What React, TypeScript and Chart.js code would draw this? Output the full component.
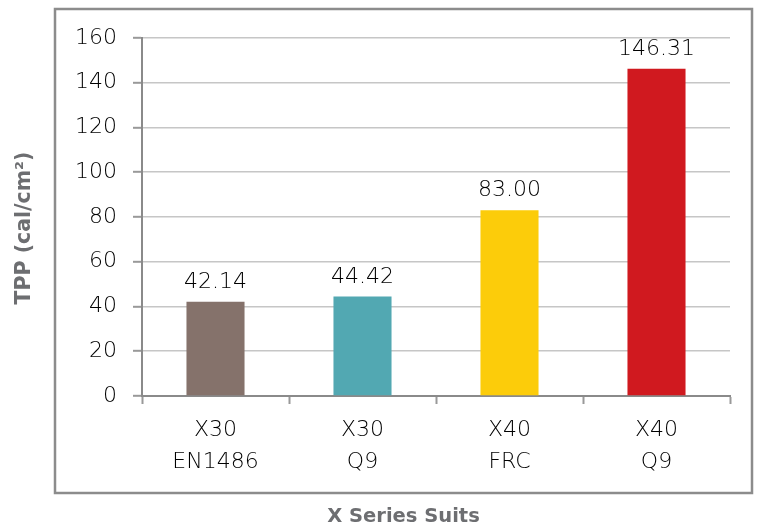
import React, { useEffect, useRef } from "react";
import { Chart, registerables } from "chart.js";

Chart.register(...registerables);

const categories: string[][] = [
  ["X30", "EN1486"],
  ["X30", "Q9"],
  ["X40", "FRC"],
  ["X40", "Q9"],
];
const tppValues: number[] = [42.14, 44.42, 83.0, 146.31];
const barColors: string[] = ["#85726b", "#52a8b2", "#fccc0a", "#d0191f"];
const yTitle = "TPP (cal/cm²)";
const xTitle = "X Series Suits";
const yMin = 0;
const yMax = 160;
const yStep = 20;

const FONT = "'DejaVu Sans', 'Liberation Sans', sans-serif";
const LIGHT = 200;
const TEXT = "#000000";

const decorPlugin = {
  id: "decor",
  beforeDraw(chart: any) {
    const { ctx, chartArea } = chart;
    const l = chartArea.left - 87;
    const t = chartArea.top - 29;
    const r = chartArea.right + 22;
    const b = chartArea.bottom + 97;
    ctx.save();
    ctx.strokeStyle = "#8c8c8c";
    ctx.lineWidth = 2.5;
    ctx.strokeRect(l, t, r - l, b - t);
    ctx.fillStyle = "#6d6e71";
    ctx.font = `bold 19.5px ${FONT}`;
    ctx.textAlign = "center";
    ctx.textBaseline = "alphabetic";
    ctx.fillText(xTitle, (l + r) / 2, b + 29);
    ctx.font = `bold 20.5px ${FONT}`;
    ctx.translate(l - 30, (chartArea.top + chartArea.bottom) / 2 + 11);
    ctx.rotate(-Math.PI / 2);
    ctx.textBaseline = "middle";
    ctx.fillText(yTitle, 0, 0);
    ctx.restore();
  },
  afterDatasetsDraw(chart: any) {
    const { ctx } = chart;
    const meta = chart.getDatasetMeta(0);
    const data = chart.data.datasets[0].data as number[];
    ctx.save();
    ctx.fillStyle = TEXT;
    ctx.font = `${LIGHT} 22px ${FONT}`;
    ctx.textAlign = "center";
    ctx.textBaseline = "alphabetic";
    meta.data.forEach((bar: any, i: number) => {
      ctx.fillText(data[i].toFixed(2), bar.x, bar.y - 14);
    });
    ctx.restore();
  },
};

export default function App() {
  const ref = useRef<HTMLCanvasElement | null>(null);
  useEffect(() => {
    document.body.style.margin = "0";
    const canvas = ref.current;
    if (!canvas) return;
    const chart = new Chart(canvas, {
      type: "bar",
      data: {
        labels: categories,
        datasets: [
          {
            data: tppValues,
            backgroundColor: barColors,
            borderWidth: 0,
            categoryPercentage: 1,
            barPercentage: 0.395,
          },
        ],
      },
      options: {
        animation: false,
        responsive: false,
        devicePixelRatio: 1,
        layout: { padding: { top: 38, right: 31, left: 0, bottom: 0 } },
        plugins: {
          legend: { display: false },
          tooltip: { enabled: false },
          title: { display: false },
        },
        scales: {
          x: {
            afterFit: (s: any) => {
              s.height = 133;
            },
            grid: {
              display: true,
              drawOnChartArea: false,
              drawTicks: true,
              tickLength: 8,
              tickColor: "#999999",
              tickWidth: 2,
              color: "#999999",
            },
            border: { display: true, color: "#8a8a8a", width: 2 },
            ticks: {
              color: TEXT,
              font: { family: FONT, size: 22, lineHeight: 1.45, weight: LIGHT },
              padding: 10,
              maxRotation: 0,
              autoSkip: false,
            },
          },
          y: {
            min: yMin,
            max: yMax,
            afterFit: (s: any) => {
              s.width = 142;
            },
            grid: {
              color: "#c6c6c6",
              lineWidth: 1.6,
              tickLength: 9,
              tickColor: "#999999",
              tickWidth: 2,
            },
            border: { display: true, color: "#8a8a8a", width: 2 },
            ticks: {
              stepSize: yStep,
              color: TEXT,
              font: { family: FONT, size: 22, weight: LIGHT },
              padding: 16,
            },
          },
        },
      },
      plugins: [decorPlugin],
    });
    return () => chart.destroy();
  }, []);
  return <canvas ref={ref} width={761} height={529} style={{ display: "block" }} />;
}
